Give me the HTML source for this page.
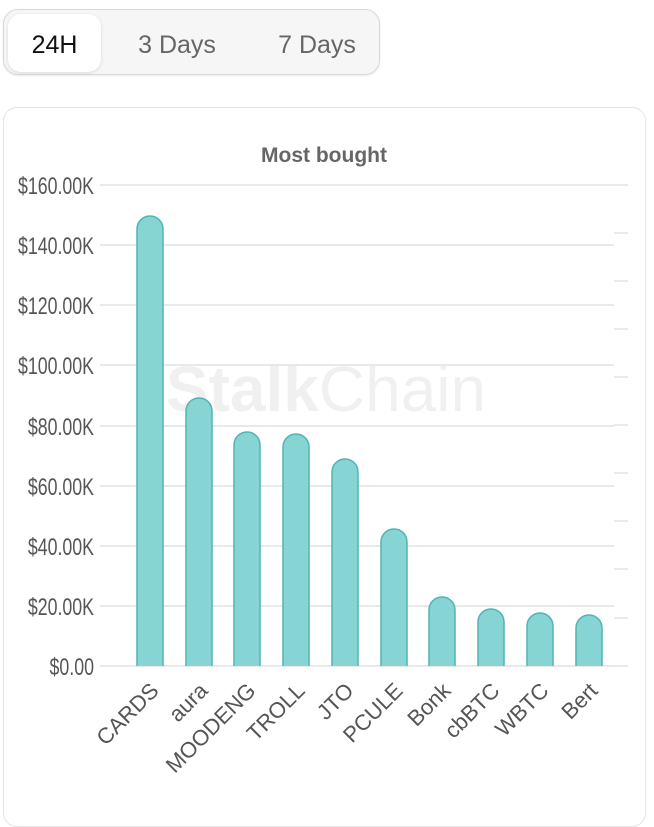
<!DOCTYPE html>
<html><head><style>
body{margin:0;width:654px;height:800px;background:#fff;font-family:"Liberation Sans",sans-serif;overflow:hidden;position:relative}
.tabs{position:absolute;left:3px;top:9px;width:377px;height:66px;border:1px solid #d8d8d8;border-radius:15px;background:#f6f6f6;box-sizing:border-box;box-shadow:0 1px 2px rgba(0,0,0,.08)}
.tab{position:absolute;top:4px;height:58px;line-height:62px;font-size:25px;color:#666;text-align:center}
.act{left:4px;width:93px;background:#fff;border-radius:13px;color:#111;box-shadow:0 1px 3px rgba(0,0,0,.12)}
.card{position:absolute;left:3px;top:107px;width:643px;height:720px;border:1px solid #e4e4e4;border-radius:14px;box-sizing:border-box}
</style></head><body>
<div class="tabs"><div class="tab act">24H</div><div class="tab" style="left:118px;width:110px">3 Days</div><div class="tab" style="left:258px;width:110px">7 Days</div></div>
<div class="card"></div>
<svg width="654" height="800" style="position:absolute;left:0;top:0" font-family="Liberation Sans, sans-serif">
<text x="324" y="162" text-anchor="middle" font-size="21" font-weight="bold" fill="#666">Most bought</text>
<text x="326" y="411" text-anchor="middle" font-size="64" fill="#000" fill-opacity="0.06"><tspan font-weight="bold">Stalk</tspan>Chain</text>
<g stroke="#e2e2e2" stroke-width="1.5">
<line x1="100" x2="628" y1="185" y2="185"/>
<line x1="100" x2="614" y1="245" y2="245"/>
<line x1="100" x2="614" y1="305" y2="305"/>
<line x1="100" x2="614" y1="365" y2="365"/>
<line x1="100" x2="614" y1="426" y2="426"/>
<line x1="100" x2="614" y1="486" y2="486"/>
<line x1="100" x2="614" y1="546" y2="546"/>
<line x1="100" x2="614" y1="606" y2="606"/>
<line x1="100" x2="628" y1="666" y2="666"/>
<line x1="614" x2="628" y1="233" y2="233"/><line x1="614" x2="628" y1="281" y2="281"/><line x1="614" x2="628" y1="329" y2="329"/><line x1="614" x2="628" y1="377" y2="377"/><line x1="614" x2="628" y1="425" y2="425"/><line x1="614" x2="628" y1="473" y2="473"/><line x1="614" x2="628" y1="521" y2="521"/><line x1="614" x2="628" y1="569" y2="569"/><line x1="614" x2="628" y1="618" y2="618"/>
</g>
<g font-size="24" fill="#555" text-anchor="end" transform="translate(94,0) scale(0.74,1)">
<text x="0" y="194">$160.00K</text><text x="0" y="254">$140.00K</text><text x="0" y="314">$120.00K</text><text x="0" y="374">$100.00K</text><text x="0" y="435">$80.00K</text><text x="0" y="495">$60.00K</text><text x="0" y="555">$40.00K</text><text x="0" y="615">$20.00K</text><text x="0" y="675">$0.00</text>
</g>
<g fill="#86d4d3" stroke="#4fb5b4" stroke-width="1.5">
<path d="M137 666V229a13 13 0 0 1 26 0V666"/>
<path d="M186 666V411a13 13 0 0 1 26 0V666"/>
<path d="M234 666V445a13 13 0 0 1 26 0V666"/>
<path d="M283 666V447a13 13 0 0 1 26 0V666"/>
<path d="M332 666V472a13 13 0 0 1 26 0V666"/>
<path d="M381 666V542a13 13 0 0 1 26 0V666"/>
<path d="M429 666V610a13 13 0 0 1 26 0V666"/>
<path d="M478 666V622a13 13 0 0 1 26 0V666"/>
<path d="M527 666V626a13 13 0 0 1 26 0V666"/>
<path d="M576 666V628a13 13 0 0 1 26 0V666"/>
</g>
<g font-size="22" fill="#555" text-anchor="end">
<text transform="translate(160,692) rotate(-45)">CARDS</text>
<text transform="translate(209,692) rotate(-45)">aura</text>
<text transform="translate(257,692) rotate(-45)">MOODENG</text>
<text transform="translate(306,692) rotate(-45)">TROLL</text>
<text transform="translate(355,692) rotate(-45)">JTO</text>
<text transform="translate(404,692) rotate(-45)">PCULE</text>
<text transform="translate(452,692) rotate(-45)">Bonk</text>
<text transform="translate(501,692) rotate(-45)">cbBTC</text>
<text transform="translate(550,692) rotate(-45)">WBTC</text>
<text transform="translate(599,692) rotate(-45)">Bert</text>
</g>
</svg>
</body></html>
